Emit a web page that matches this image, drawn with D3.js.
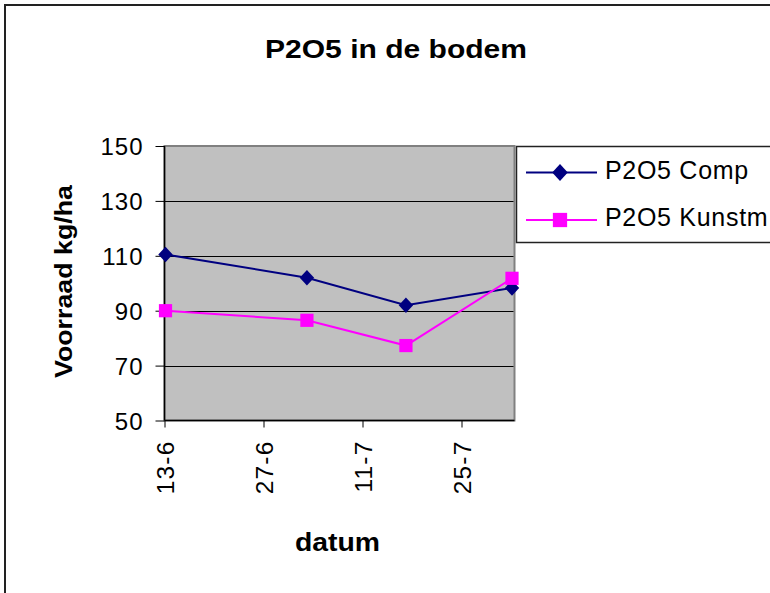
<!DOCTYPE html>
<html><head><meta charset="utf-8">
<script src="https://cdn.jsdelivr.net/npm/d3@7"></script>
<style>body{margin:0;background:#fff}svg{display:block}text{font-family:"Liberation Sans",Arial,sans-serif}</style>
</head><body>
<svg id="c" width="770" height="593"></svg>
<script>
const dates = ["2004-06-13","2004-07-03","2004-07-17","2004-08-01"];
const comp = [110.5, 102, 92, 98.3];
const kunst = [90, 86.5, 77.3, 101.8];
const seriesNames = ["P2O5 Comp","P2O5 Kunstm"];
const yTicks = [50,70,90,110,130,150];
const xTickDates = ["2004-06-13","2004-06-27","2004-07-11","2004-07-25"];

const parse = d3.timeParse("%Y-%m-%d");
const svg = d3.select("#c");
svg.append("rect").attr("x",5).attr("y",5).attr("width",800).attr("height",700)
  .attr("fill","#fff").attr("stroke","#222").attr("stroke-width",2);

const L=164.5, R=514.5, T=146, B=420.5;
const x = d3.scaleTime().domain([parse("2004-06-13"), parse("2004-08-01")]).range([L+1, 512]);
const y = d3.scaleLinear().domain([50,150]).range([B, T]);

svg.append("rect").attr("x",L).attr("y",T).attr("width",R-L).attr("height",B-T)
  .attr("fill","#C0C0C0").attr("stroke","#808080").attr("stroke-width",2);

svg.append("g").selectAll("line").data(yTicks.filter(v=>v>50 && v<150)).join("line")
  .attr("x1",L).attr("x2",R-1).attr("y1",d=>Math.round(y(d))+0.5).attr("y2",d=>Math.round(y(d))+0.5)
  .attr("stroke","#000").attr("stroke-width",1);

// axes
const yAxis = d3.axisLeft(y).tickValues(yTicks).tickSize(9).tickPadding(12);
const gy = svg.append("g").attr("transform",`translate(${L},0)`).call(yAxis);
gy.select(".domain").attr("d",`M0,${T}V${B}`).attr("stroke","#000").attr("stroke-width",1.5);
gy.selectAll("text").attr("font-size",24).attr("letter-spacing","1px").attr("fill","#000").attr("dy","0.36em");

const xAxis = d3.axisBottom(x).tickValues(xTickDates.map(parse)).tickFormat(d3.timeFormat("%-d-%-m")).tickSize(7).tickPadding(0);
const gx = svg.append("g").attr("transform",`translate(0,${B})`).call(xAxis);
gx.select(".domain").attr("d",`M${L},0H${R}`).attr("stroke","#000").attr("stroke-width",1.5);
gx.selectAll(".tick line").attr("transform","translate(-1,0)");
gx.selectAll("text").attr("font-size",24.5).attr("letter-spacing","1.2px").attr("fill","#000")
  .attr("transform","rotate(-90)").attr("text-anchor","end").attr("x",-20).attr("y",-1).attr("dy","0.36em");

// lines
const data = [comp, kunst];
const colors = ["#000080","#FF00FF"];
const line = d3.line().x((d,i)=>x(parse(dates[i]))).y(d=>y(d));
data.forEach((s,k)=>{
  svg.append("path").datum(s).attr("d",line).attr("fill","none").attr("stroke",colors[k]).attr("stroke-width",2);
});
function marker(g,k,cx,cy,s){
  if(k===0){
    const w=7.2*s, h=7.8*s;
    g.append("path").attr("d",`M${cx},${cy-h}L${cx+w},${cy}L${cx},${cy+h}L${cx-w},${cy}Z`).attr("fill",colors[0]);
  } else {
    const a=6.6*s;
    g.append("rect").attr("x",cx-a).attr("y",cy-a).attr("width",2*a).attr("height",2*a).attr("fill",colors[1]);
  }
}
const mg = svg.append("g");
data.forEach((s,k)=>s.forEach((v,i)=>marker(mg,k,x(parse(dates[i])),y(v),1)));

// legend
const lg = svg.append("g");
lg.append("rect").attr("x",516.5).attr("y",146.5).attr("width",300).attr("height",96).attr("fill","#fff").attr("stroke","#222").attr("stroke-width",1.5);
seriesNames.forEach((n,k)=>{
  const yy = 172.5 + k*47.5;
  lg.append("line").attr("x1",526).attr("x2",597).attr("y1",yy).attr("y2",yy).attr("stroke",colors[k]).attr("stroke-width",2);
  marker(lg,k,560,yy,1.08);
  lg.append("text").attr("x",605).attr("y",yy+6).attr("font-size",25).attr("letter-spacing","0.7px").text(n);
});

// titles
svg.append("text").attr("x",265).attr("y",57.5).attr("font-size",25.5).attr("font-weight","bold")
  .attr("textLength",262).attr("lengthAdjust","spacingAndGlyphs").text("P2O5 in de bodem");
svg.append("text").attr("transform","translate(72,378) rotate(-90)").attr("font-size",24.5).attr("font-weight","bold")
  .attr("textLength",193).attr("lengthAdjust","spacingAndGlyphs").text("Voorraad kg/ha");
svg.append("text").attr("x",295).attr("y",551).attr("font-size",25).attr("font-weight","bold")
  .attr("textLength",85).attr("lengthAdjust","spacingAndGlyphs").text("datum");
</script>
</body></html>
